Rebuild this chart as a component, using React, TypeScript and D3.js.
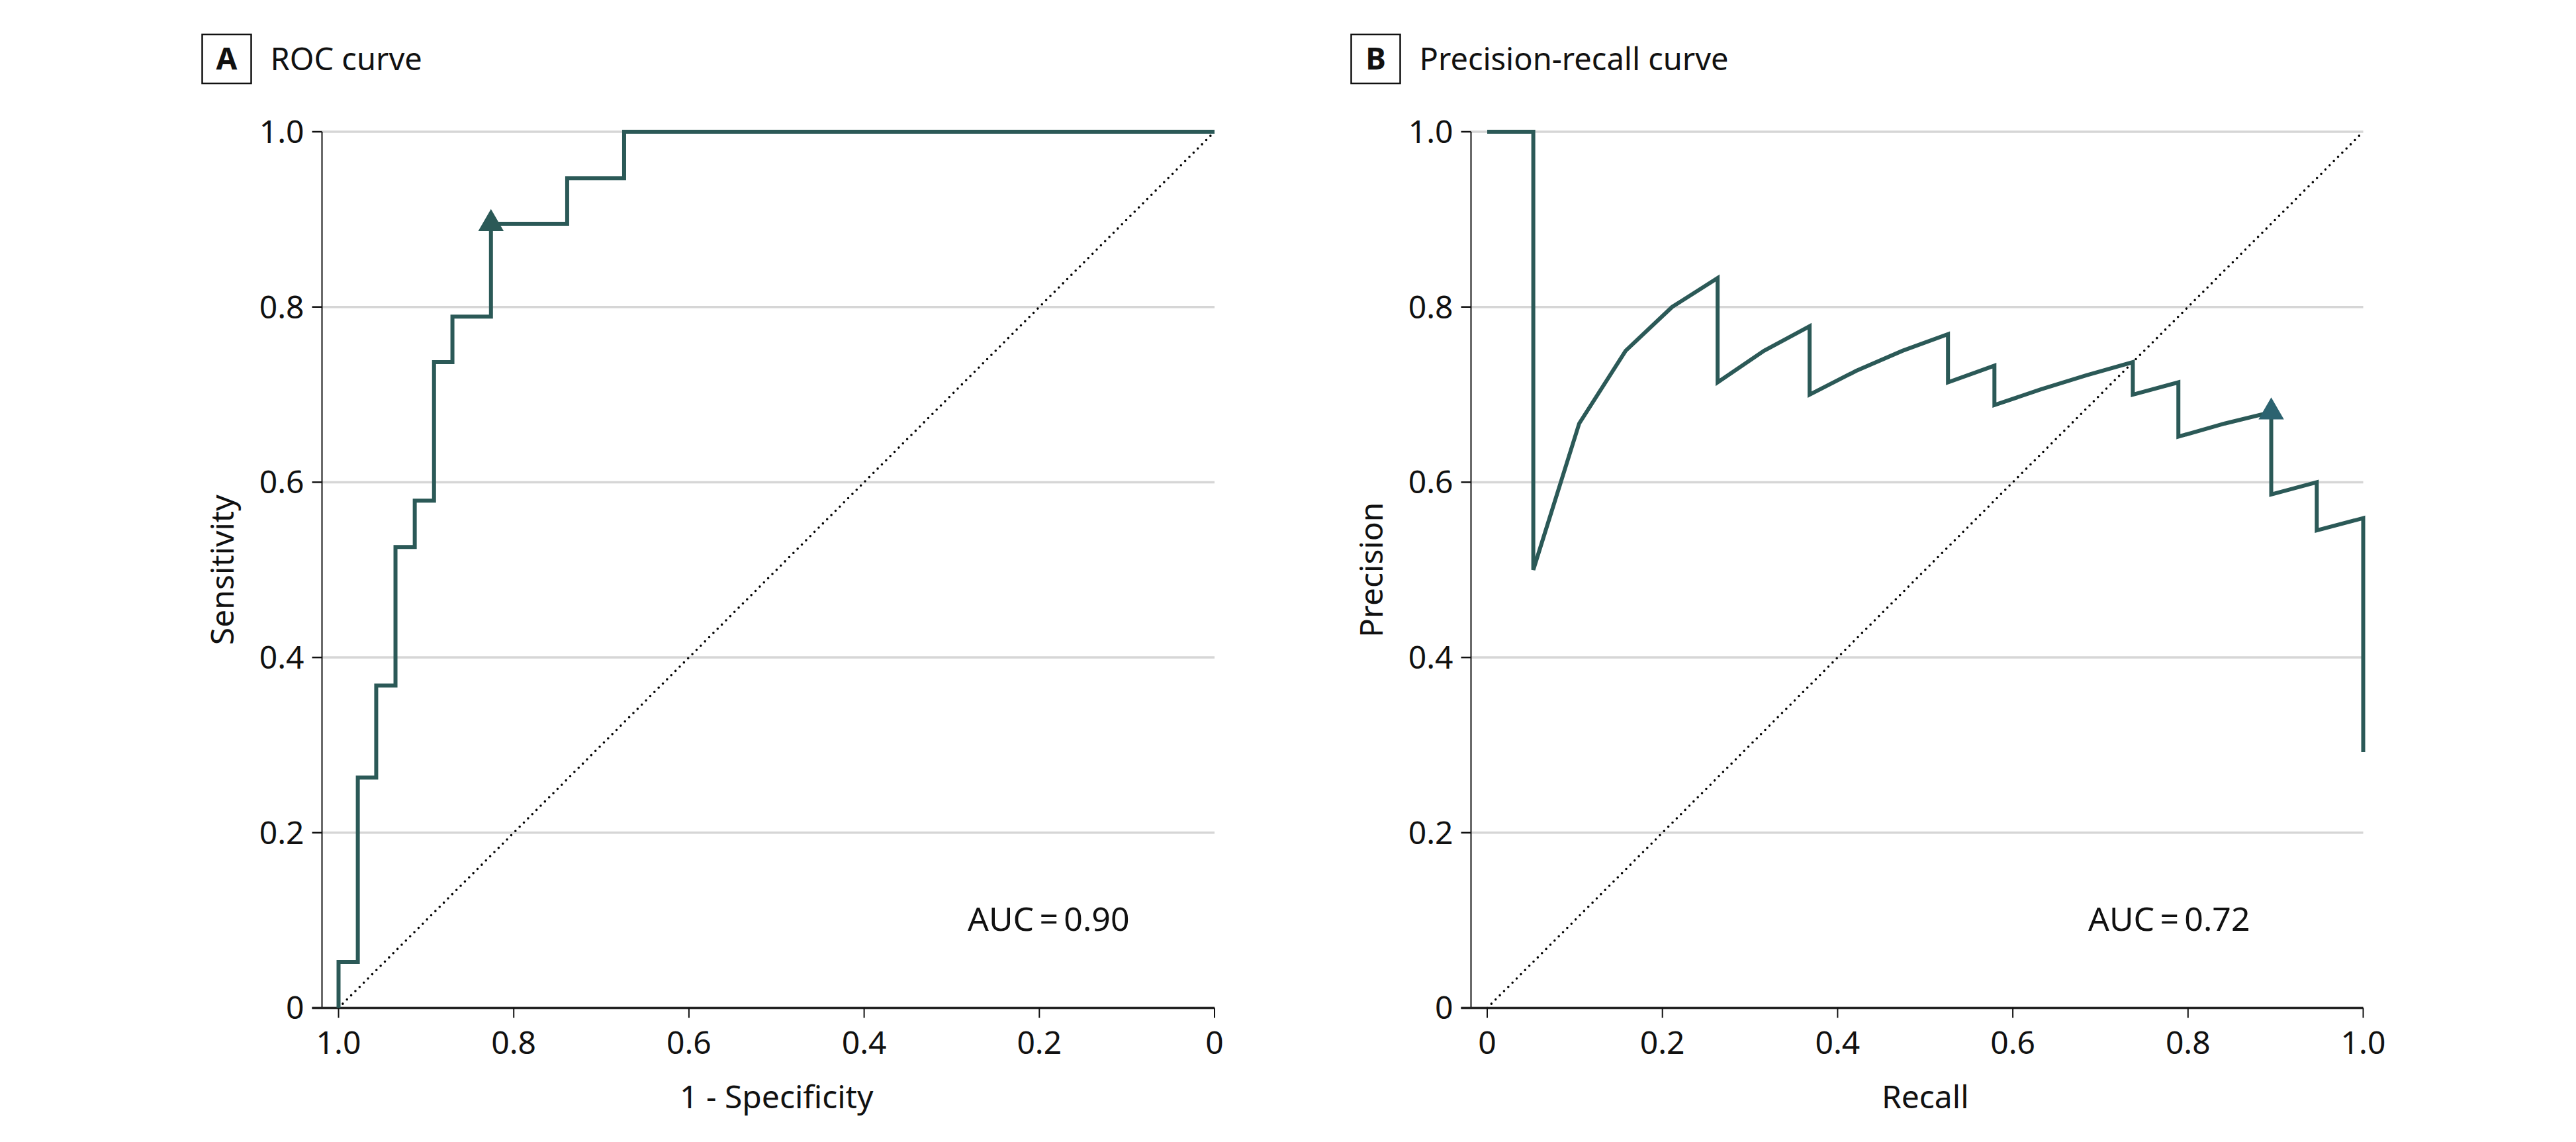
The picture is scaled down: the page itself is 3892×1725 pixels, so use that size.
import React from 'react';
import * as d3 from 'd3';

// ROC curve operating points (axis "1 - Specificity" shown reversed, 1.0 at left)
const rocX = [1.0, 1.0, 0.978, 0.957, 0.935, 0.913, 0.891, 0.870, 0.826, 0.739, 0.674, 0.0];
const rocY = [0.0, 0.0526, 0.263, 0.368, 0.526, 0.579, 0.737, 0.789, 0.895, 0.947, 1.0, 1.0];
const rocMarkerX = [0.826];
const rocMarkerY = [0.895];
const rocAUC = 'AUC\u2009=\u20090.90';

// Precision-recall curve vertices
const prRecall = [0, 0.0526, 0.0526, 0.105, 0.158, 0.211, 0.263, 0.263, 0.316, 0.368, 0.368, 0.421, 0.474, 0.526, 0.526, 0.579, 0.579, 0.632, 0.684, 0.737, 0.737, 0.789, 0.789, 0.842, 0.895, 0.895, 0.947, 0.947, 1.0, 1.0];
const prPrecision = [1.0, 1.0, 0.5, 0.667, 0.75, 0.8, 0.833, 0.714, 0.75, 0.778, 0.7, 0.727, 0.75, 0.769, 0.714, 0.733, 0.688, 0.706, 0.722, 0.737, 0.7, 0.714, 0.652, 0.667, 0.68, 0.586, 0.6, 0.545, 0.559, 0.292];
const prMarkerX = [0.895];
const prMarkerY = [0.68];
const prAUC = 'AUC\u2009=\u20090.72';

const tickValues = [0, 0.2, 0.4, 0.6, 0.8, 1.0];
const gridValues = [0.2, 0.4, 0.6, 0.8, 1.0];

const W = 3892;
const H = 1725;
const FONT = '"Noto Sans", "Open Sans", sans-serif';
const LINE = '#2b5957';
const fmt = (d: number) => (d === 0 ? '0' : d.toFixed(1));

type PanelProps = {
  letter: string;
  title: string;
  xTitle: string;
  yTitle: string;
  xDomain: [number, number];
  x0: number;
  axisX: number;
  xs: number[];
  ys: number[];
  curve: d3.CurveFactory;
  mx: number[];
  my: number[];
  markerColor: string;
  auc: string;
  aucX: number;
  diag: [number, number][];
};

function Panel(p: PanelProps) {
  const x = d3.scaleLinear().domain(p.xDomain).range([p.x0, p.x0 + 1323.5]);
  const y = d3.scaleLinear().domain([0, 1]).range([1522.5, 199]);
  const xMin = p.x0;
  const xMax = p.x0 + 1323.5;
  const line = d3
    .line<number>()
    .x((_, i) => x(p.xs[i]))
    .y((_, i) => y(p.ys[i]))
    .curve(p.curve);
  const tri = d3.symbol(d3.symbolTriangle, 640)();
  const diagLine = d3
    .line<[number, number]>()
    .x((d) => x(d[0]))
    .y((d) => y(d[1]));
  const boxL = p.axisX - 181;
  return (
    <g fontFamily={FONT}>
      <rect x={boxL} y={52} width={74} height={74} fill="none" stroke="#111" strokeWidth={2.5} />
      <text x={boxL + 37} y={105} textAnchor="middle" fontSize={46} fontWeight={700} fill="#111">
        {p.letter}
      </text>
      <text x={boxL + 103} y={106} fontSize={47} fill="#111">
        {p.title}
      </text>
      {gridValues.map((v) => (
        <line key={v} x1={p.axisX} x2={xMax} y1={y(v)} y2={y(v)} stroke="#d6d6d6" strokeWidth={3.5} />
      ))}
      <path
        d={diagLine(p.diag) || ''}
        fill="none"
        stroke="#000"
        strokeWidth={3.6}
        strokeDasharray="0 9"
        strokeLinecap="round"
      />
      <line x1={p.axisX} x2={p.axisX} y1={y(1)} y2={y(0)} stroke="#111" strokeWidth={2} />
      {tickValues.map((v) => (
        <g key={'y' + v}>
          <line x1={p.axisX - 15} x2={p.axisX} y1={y(v)} y2={y(v)} stroke="#111" strokeWidth={2.5} />
          <text x={p.axisX - 27} y={y(v)} dy="0.35em" textAnchor="end" fontSize={48} fill="#111">
            {fmt(v)}
          </text>
        </g>
      ))}
      <line x1={p.axisX - 15} x2={xMax} y1={y(0)} y2={y(0)} stroke="#222" strokeWidth={3.5} />
      {tickValues.map((v) => (
        <g key={'x' + v}>
          <line x1={x(v)} x2={x(v)} y1={y(0)} y2={y(0) + 15} stroke="#111" strokeWidth={2} />
          <text x={x(v)} y={1592} textAnchor="middle" fontSize={48} fill="#111">
            {fmt(v)}
          </text>
        </g>
      ))}
      <text x={(xMin + xMax) / 2} y={1674} textAnchor="middle" fontSize={48} fill="#111">
        {p.xTitle}
      </text>
      <text
        transform={`translate(${p.axisX - 134},${(y(0) + y(1)) / 2}) rotate(-90)`}
        textAnchor="middle"
        fontSize={48}
        fill="#111"
      >
        {p.yTitle}
      </text>
      <path
        d={line(p.xs.map((_, i) => i)) || ''}
        fill="none"
        stroke={LINE}
        strokeWidth={6}
        strokeLinejoin="miter"
      />
      {p.mx.map((v, i) => (
        <path key={i} d={tri || ''} transform={`translate(${x(v)},${y(p.my[i])})`} fill={p.markerColor} />
      ))}
      <text x={p.aucX} y={1406} fontSize={50} fill="#111">
        {p.auc}
      </text>
    </g>
  );
}

export default function App() {
  return (
    <svg
      width={W}
      height={H}
      viewBox={`0 0 ${W} ${H}`}
      style={{ position: 'absolute', left: 0, top: 0, background: '#fff' }}
    >
      <rect width={W} height={H} fill="#fff" />
      <Panel
        letter="A"
        title="ROC curve"
        xTitle="1 - Specificity"
        yTitle="Sensitivity"
        xDomain={[1, 0]}
        x0={511.5}
        axisX={486.5}
        xs={rocX}
        ys={rocY}
        curve={d3.curveStepAfter}
        mx={rocMarkerX}
        my={rocMarkerY}
        markerColor={LINE}
        auc={rocAUC}
        aucX={1462}
        diag={[[1, 0], [0, 1]]}
      />
      <Panel
        letter="B"
        title="Precision-recall curve"
        xTitle="Recall"
        yTitle="Precision"
        xDomain={[0, 1]}
        x0={2247}
        axisX={2222.5}
        xs={prRecall}
        ys={prPrecision}
        curve={d3.curveLinear}
        mx={prMarkerX}
        my={prMarkerY}
        markerColor="#2c6370"
        auc={prAUC}
        aucX={3155}
        diag={[[0, 0], [1, 1]]}
      />
    </svg>
  );
}
